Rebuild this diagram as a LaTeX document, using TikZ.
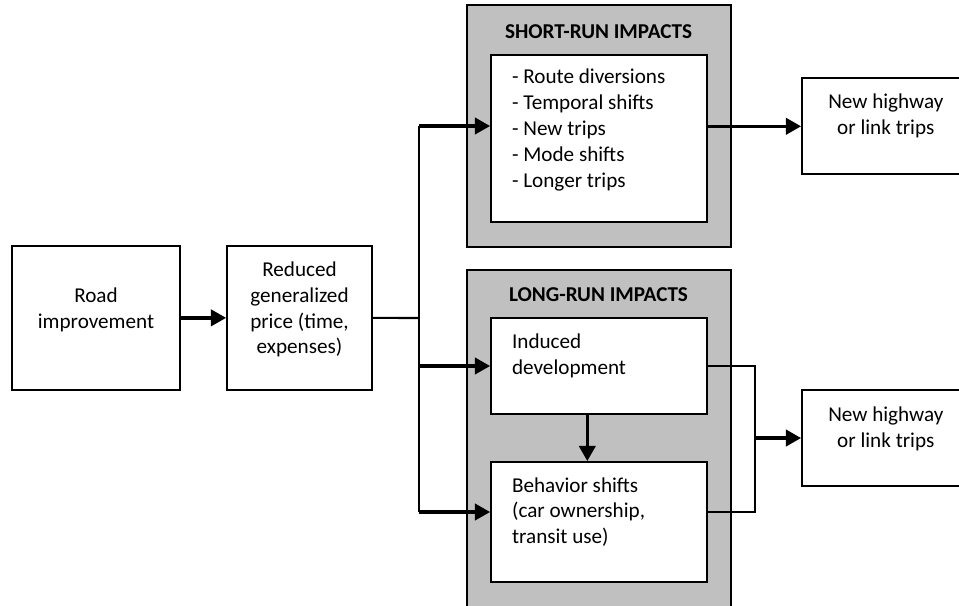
\documentclass[tikz,border=0pt]{standalone}
\usepackage{fontspec}
\setmainfont{Carlito}
\usetikzlibrary{arrows.meta,fit}
\definecolor{panelgray}{RGB}{192,192,192}
\begin{document}
\begin{tikzpicture}[x=0.52pt,y=-0.52pt,
  box/.style={draw=black,line width=0.9pt,fill=white,inner sep=0pt},
  panel/.style={draw=black,line width=0.9pt,fill=panelgray,inner sep=0pt},
  txt/.style={font=\fontsize{11}{13.4}\selectfont,align=center,inner sep=0pt},
  ltxt/.style={font=\fontsize{11}{13.4}\selectfont,align=left,inner sep=0pt,anchor=west},
  ttl/.style={font=\bfseries\fontsize{11}{13.4}\selectfont,inner sep=0pt},
  arr/.style={line width=1.8pt,-{Triangle[length=8pt,width=8.5pt]}},
  conn/.style={line width=1.1pt}]
\useasboundingbox (0,0) rectangle (959,605);
% panels
\node[panel,fit={(466.7,5) (731,246.7)}] (srp) {};
\node[panel,fit={(466.7,270) (731,612)}] (lrp) {};
% boxes
\node[box,fit={(11.7,245.7) (180,390)}] (road) {};
\node[box,fit={(227,245.7) (372,390)}] (reduced) {};
\node[box,fit={(491,55) (706.7,222)}] (srin) {};
\node[box,fit={(491,318) (706.7,414)}] (induced) {};
\node[box,fit={(491,462) (706.7,581.7)}] (behav) {};
\node[box,fit={(802,78.3) (975,174.3)}] (nh1) {};
\node[box,fit={(802,390) (975,486)}] (nh2) {};
% texts
\node[txt] (roadt) at (96,309.5) {Road\\improvement};
\node[txt] (reducedt) at (299.5,309.5) {Reduced\\generalized\\price (time,\\expenses)};
\node[ttl] (srt) at (598.5,32) {SHORT-RUN IMPACTS};
\node[ttl] (lrt) at (598.5,295) {LONG-RUN IMPACTS};
\node[ltxt] (srlist) at (511.7,130) {- Route diversions\\- Temporal shifts\\- New trips\\- Mode shifts\\- Longer trips};
\node[ltxt] (inducedt) at (511.7,356) {Induced\\development};
\node[ltxt] (behavt) at (511.7,512) {Behavior shifts\\(car ownership,\\transit use)};
\node[txt] (nh1t) at (885.8,116) {New highway\\or link trips};
\node[txt] (nh2t) at (885.8,428.5) {New highway\\or link trips};
% junction coordinates
\coordinate (j) at (419.3,318);
\coordinate (jtop) at (419.3,126);
\coordinate (jbot) at (419.3,512);
\coordinate (dv) at (587.3,0);
\coordinate (k) at (755,0);
% connectors
\draw[arr] (road.east) -- (reduced.west);
\draw[conn] (reduced.east) -- (j);
\draw[conn] (jtop) -- (jbot);
\draw[arr] (jtop) -- (jtop -| srin.west);
\draw[arr] (j |- induced.west) -- (induced.west);
\draw[arr] (jbot) -- (jbot -| behav.west);
\draw[arr] (induced.south -| dv) -- (behav.north -| dv);
\draw[arr] (srin.east |- nh1.west) -- (nh1.west);
\draw[conn] (induced.east) -- (induced.east -| k) -- (k |- jbot) -- (jbot -| behav.east);
\draw[arr] (k |- nh2.west) -- (nh2.west);
\end{tikzpicture}
\end{document}
